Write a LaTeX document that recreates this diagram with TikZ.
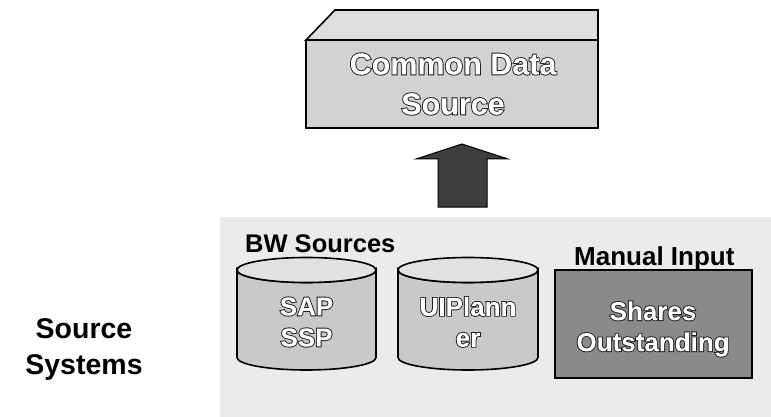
\documentclass[tikz,border=0pt]{standalone}
\usepackage{fontspec}
\setmainfont{Liberation Sans}
\definecolor{bgstip}{HTML}{EBEBEB}
\definecolor{topface}{HTML}{DEDEDE}
\definecolor{frontface}{HTML}{D2D2D2}
\definecolor{cylbody}{HTML}{C9C9C9}
\definecolor{cyltop}{HTML}{E2E2E2}
\definecolor{manfill}{HTML}{8A8A8A}
\definecolor{arrfill}{HTML}{3E3E3E}
\newcommand{\olt}[1]{\special{pdf:literal direct 0.12 0.12 0.12 RG 1.8 w 5 Tr}#1\special{pdf:literal direct 0 Tr 1 1 1 rg -3000 -3000 6000 6000 re f}}
\tikzset{
  edge/.style={draw=black, line width=1.6pt, line join=miter},
  intext/.style={font=\bfseries\fontsize{26}{31}\selectfont, text=white, align=center, inner sep=0pt},
  lbl/.style={font=\bfseries\fontsize{25.5}{30}\selectfont, text=black, inner sep=0pt},
}
\begin{document}
\begin{tikzpicture}[x=1pt,y=-1pt]
\useasboundingbox (0,0) rectangle (771,417);
\fill[white] (0,0) rectangle (771,417);
% source area background
\fill[bgstip] (220,217) rectangle (771,417);
% common data source cuboid
\filldraw[fill=topface, edge] (306,40) -- (335,10) -- (598,10) -- (598,40) -- cycle;
\filldraw[fill=frontface, edge] (306,40) rectangle (598,128);
\node[intext, font=\bfseries\fontsize{30.5}{40}\selectfont] (cds) at (453,84) {\olt{Common Data\\Source}};
% arrow
\coordinate (arrbot) at (462,207);
\coordinate (arrtip) at (462,144);
\filldraw[fill=arrfill, draw=black, line width=1pt, line join=miter]
  (438,207) -- (438,159) -- (416,159) -- (arrtip) -- (508,159) -- (487,159) -- (487,207) -- cycle;
% cylinder 1
\filldraw[fill=cylbody, edge] (237,270) -- (237,357.5) arc[start angle=180, end angle=360, x radius=69.5pt, y radius=12.5pt]
  -- (376,270) arc[start angle=360, end angle=180, x radius=69.5pt, y radius=12.5pt] -- cycle;
\filldraw[fill=cyltop, edge] (306.5,270) ellipse[x radius=69.5pt, y radius=12.5pt];
\node[intext] (sap) at (306.5,322) {\olt{SAP\\SSP}};
% cylinder 2
\filldraw[fill=cylbody, edge] (398,270) -- (398,357.5) arc[start angle=180, end angle=360, x radius=70pt, y radius=12.5pt]
  -- (538,270) arc[start angle=360, end angle=180, x radius=70pt, y radius=12.5pt] -- cycle;
\filldraw[fill=cyltop, edge] (468,270) ellipse[x radius=70pt, y radius=12.5pt];
\node[intext] (uip) at (468,322) {\olt{UIPlann\\er}};
% manual input box
\filldraw[fill=manfill, edge] (555,270) rectangle (752,378);
\node[intext] (shares) at (653,329) {\olt{Shares\\Outstanding}};
% labels
\node[lbl, anchor=base west] (bw) at (245,252) {BW Sources};
\node[lbl, font=\bfseries\fontsize{26}{30}\selectfont, anchor=base west] (man) at (574,265) {Manual Input};
\node[font=\bfseries\fontsize{28.5}{36}\selectfont, align=center, inner sep=0pt] (srcsys) at (84,350) {Source\\Systems};
\end{tikzpicture}
\end{document}
